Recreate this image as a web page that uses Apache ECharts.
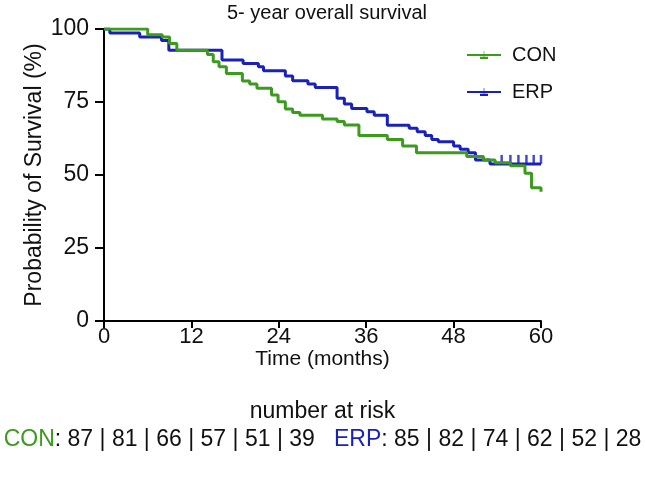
<!DOCTYPE html>
<html>
<head>
<meta charset="utf-8">
<script src="https://cdn.jsdelivr.net/npm/echarts@6/dist/echarts.min.js"></script>
<style>html,body{margin:0;padding:0;background:#fff}#c{width:645px;height:483px}</style>
</head>
<body>
<div id="c"></div>
<script>
// Kaplan-Meier step data (time in months, survival %)
var conTime = [0, 6, 8, 9, 10, 14.2, 15, 15.8, 16.8, 19, 20, 21, 23, 23.9, 24.9, 25.9, 26.9, 30, 32, 33, 35, 38.9, 41, 42.9, 49.8, 52.1, 53.7, 55.8, 57.8, 58.7, 60];
var conSurv = [100, 98.0, 97.3, 95.0, 92.7, 91.3, 88.8, 87.1, 84.8, 82.2, 81.2, 79.7, 77.4, 75.1, 72.6, 71.4, 70.5, 69.2, 68.3, 67.1, 63.5, 62.2, 59.9, 57.6, 56.3, 55.1, 54.2, 53.2, 50.6, 45.6, 44.3];
var erpTime = [0, 0.8, 4.9, 7.9, 8.9, 16.2, 19.1, 21.2, 21.9, 24.9, 25.9, 28, 29, 32, 33, 34, 36.1, 37.1, 38.9, 41.9, 43, 44.1, 45, 45.9, 48, 48.9, 50, 51, 53, 60];
var erpSurv = [100, 98.6, 97.3, 96.1, 92.7, 89.4, 88.2, 87.1, 85.7, 83.9, 82.3, 81.2, 80.0, 76.3, 74.3, 72.8, 71.7, 70.5, 67.0, 66.0, 64.8, 63.5, 62.2, 61.4, 59.9, 58.8, 57.6, 55.1, 53.8, 53.8];
var erpCensorTime = [54.6, 55.8, 56.9, 58, 59, 60];
var erpCensorSurv = [53.8, 53.8, 53.8, 53.8, 53.8, 53.8];
var xTicks = [0, 12, 24, 36, 48, 60];
var yTicks = [0, 25, 50, 75, 100];
var conRisk = [87, 81, 66, 57, 51, 39];
var erpRisk = [85, 82, 74, 62, 52, 28];

var GREEN = '#3c9a1f';
var BLUE = '#1a21b8';
var FONT = 'Liberation Sans, Arial, Helvetica, sans-serif';

function pairs(a, b) { return a.map(function (v, i) { return [v, b[i]]; }); }

var chart = echarts.init(document.getElementById('c'), null, { renderer: 'canvas' });
var legendIcon = 'path://M0,7 h34 v2.5 h-34 z M15.8,1 h2.5 v6 h-2.5 z';

var bottomText = '{g|CON}{k|: ' + conRisk.join(' | ') + '   }{b|ERP}{k|: ' + erpRisk.join(' | ') + '}';

chart.setOption({
  animation: false,
  backgroundColor: '#fff',
  textStyle: { fontFamily: FONT },
  title: {
    text: '5- year overall survival',
    left: 322, top: -2, textAlign: 'center',
    textStyle: { fontFamily: FONT, fontSize: 20, fontWeight: 'normal', color: '#111' }
  },
  legend: {
    data: ['CON', 'ERP'],
    orient: 'vertical',
    left: 461, top: 40,
    itemGap: 17,
    itemWidth: 34, itemHeight: 10,
    textStyle: { fontFamily: FONT, fontSize: 20, color: '#111', padding: [0, 0, 0, 6] }
  },
  grid: { left: 104, right: 104, top: 29, bottom: 162, containLabel: false },
  xAxis: {
    type: 'value', min: 0, max: 60, interval: 12,
    name: 'Time (months)', nameLocation: 'middle', nameGap: 28, nameMoveOverlap: false,
    nameTextStyle: { fontFamily: FONT, fontSize: 21, color: '#111' },
    axisLine: { show: true, lineStyle: { color: '#000', width: 2 } },
    axisTick: { show: true, length: 7, lineStyle: { color: '#000', width: 2 } },
    axisLabel: { margin: 5, fontFamily: FONT, fontSize: 22, color: '#111',
      formatter: function (v) { return xTicks.indexOf(v) >= 0 ? String(v) : ''; } },
    splitLine: { show: false }
  },
  yAxis: {
    type: 'value', min: 0, max: 100, interval: 25,
    name: 'Probability of Survival (%)', nameLocation: 'middle', nameGap: 58, nameRotate: 90, nameMoveOverlap: false,
    nameTextStyle: { fontFamily: FONT, fontSize: 23, color: '#111' },
    axisLine: { show: true, onZero: false, lineStyle: { color: '#000', width: 2 } },
    axisTick: { show: true, length: 9, lineStyle: { color: '#000', width: 2 } },
    axisLabel: { margin: 15, fontFamily: FONT, fontSize: 23, color: '#111',
      formatter: function (v) { return yTicks.indexOf(v) >= 0 ? String(v) : ''; } },
    splitLine: { show: false }
  },
  graphic: [
    { type: 'text', left: 'center', top: 400,
      style: { text: 'number at risk', fontFamily: FONT, fontSize: 23, fill: '#111' } },
    { type: 'text', left: 'center', top: 428,
      style: { text: bottomText, fontFamily: FONT, fontSize: 23, fill: '#111',
        rich: {
          g: { fontFamily: FONT, fontSize: 23, fill: GREEN, color: GREEN },
          b: { fontFamily: FONT, fontSize: 23, fill: BLUE, color: BLUE },
          k: { fontFamily: FONT, fontSize: 23, fill: '#111', color: '#111' }
        } } }
  ],
  series: [
    {
      name: 'CON', type: 'line', step: 'end', data: pairs(conTime, conSurv),
      showSymbol: false, symbol: legendIcon, color: GREEN,
      lineStyle: { color: GREEN, width: 3 }, z: 3
    },
    {
      name: 'ERP', type: 'line', step: 'end', data: pairs(erpTime, erpSurv),
      showSymbol: false, symbol: legendIcon, color: BLUE,
      lineStyle: { color: BLUE, width: 3 }, z: 2
    },
    {
      name: 'ERP censored', type: 'scatter', data: pairs(erpCensorTime, erpCensorSurv),
      symbol: 'rect', symbolSize: [2.5, 9], symbolOffset: [0, -4.5],
      itemStyle: { color: BLUE }, z: 2, silent: true
    }
  ]
});
</script>
</body>
</html>
